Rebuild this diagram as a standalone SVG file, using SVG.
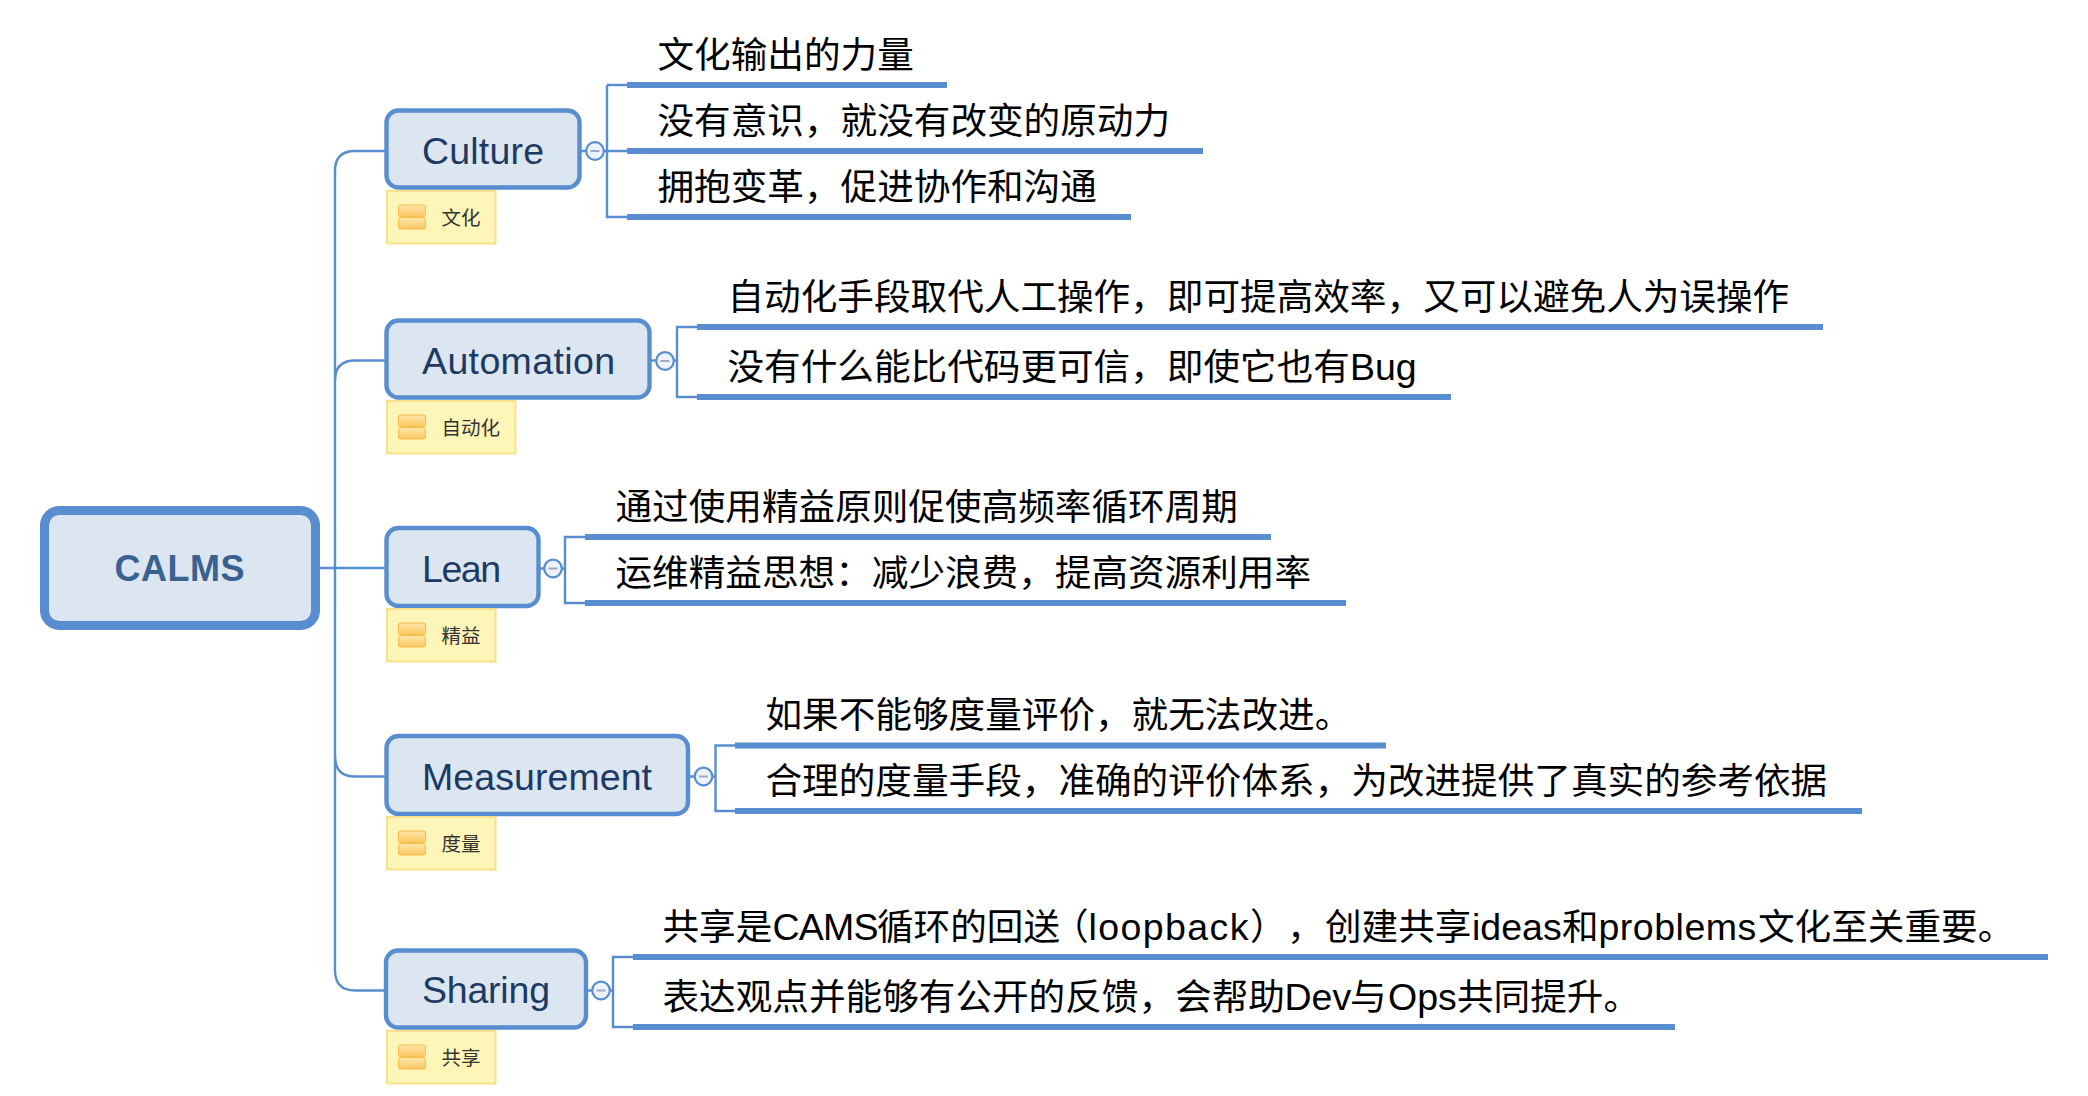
<svg xmlns="http://www.w3.org/2000/svg" width="2088" height="1096" viewBox="0 0 2088 1096">
<style>
text{font-family:"Liberation Sans","Noto Sans CJK SC",sans-serif;text-spacing-trim:space-all}
.box{fill:#dce6f1;stroke:#588dd0;stroke-width:4.4}
.root{fill:#dce6f1;stroke:#588dd0;stroke-width:9}
.lbl{font-size:37.5px;fill:#1c3a63}
.rootlbl{font-size:36px;font-weight:bold;fill:#3a6290;text-anchor:middle}
.note{fill:#fef5b8;stroke:#fae08a;stroke-width:2}
.ic{fill:url(#ig);stroke:#f6bd4f;stroke-width:1}
.ntx{font-size:19.5px;fill:#333}
.tx{font-size:36.62px;fill:#000}
.la{font-size:37.5px}
.halt{font-feature-settings:"halt"}
.ul{fill:#588dd0}
.con{fill:none;stroke:#588dd0;stroke-width:2.4}
.cc{fill:#eef3fb;stroke:#588dd0;stroke-width:2.2}
.mn{fill:#9aa8cc}
</style>
<defs>
<linearGradient id="ig" x1="0" y1="0" x2="0" y2="1"><stop offset="0" stop-color="#fde6a8"/><stop offset="1" stop-color="#fcc763"/></linearGradient>
<g id="noteicon"><rect class="ic" x="0" y="0" width="27" height="11.5" rx="2"/><rect class="ic" x="0" y="12.5" width="27" height="11.5" rx="2"/></g>
<g id="collapse"><circle class="cc" r="8.8"/><rect class="mn" x="-4.5" y="-1" width="9" height="2"/></g>
</defs>
<g id="connectors">
<path class="con" d="M320 568H385"/>
<path class="con" d="M385 151H355Q335 151 335 171V970Q335 990.5 355 990.5H385"/>
<path class="con" d="M385 360.5H355Q335 360.5 335 380.5"/>
<path class="con" d="M335 756Q335 776.5 355 776.5H385"/>
<path class="con" d="M581 151H586M604 151H607M607 85H627M607 85V217H627M607 151H627"/>
<path class="con" d="M651 360.5H656M674 360.5H677M697 327H677V397H697"/>
<path class="con" d="M540 568.5H544M561.500 568.5H565M585 537H565V603H585"/>
<path class="con" d="M690 776.500H694M712 776.5H715.500M735 745.500H715.500V811H735"/>
<path class="con" d="M588 990.500H592M610 990.500H613M633 957H613V1027H633"/>
</g>
<g id="root"><rect class="root" x="44.500" y="510.500" width="271" height="115" rx="15"/><text class="rootlbl" x="179.500" y="581" textLength="130">CALMS</text></g>
<g id="culture"><rect class="box" x="386.500" y="110.500" width="193" height="77" rx="12"/><text class="lbl" x="422" y="163.500" textLength="122">Culture</text>
<use href="#collapse" x="595" y="151"/>
<rect class="note" x="387" y="191" width="108.500" height="52.500"/><use href="#noteicon" x="398.500" y="205"/><text class="ntx" x="441.500" y="224.500">文化</text></g>
<g id="automation"><rect class="box" x="386.500" y="320.500" width="263" height="77" rx="12"/><text class="lbl" x="422" y="373.500" textLength="193">Automation</text>
<use href="#collapse" x="665" y="361"/>
<rect class="note" x="387" y="401" width="128.500" height="52.500"/><use href="#noteicon" x="398.500" y="415"/><text class="ntx" x="441.500" y="434.500">自动化</text></g>
<g id="lean"><rect class="box" x="386.500" y="528" width="152" height="78" rx="12"/><text class="lbl" x="422" y="581.500" textLength="79">Lean</text>
<use href="#collapse" x="553" y="568.500"/>
<rect class="note" x="387" y="609" width="108.500" height="52.500"/><use href="#noteicon" x="398.500" y="623"/><text class="ntx" x="441.500" y="642.500">精益</text></g>
<g id="measurement"><rect class="box" x="386.500" y="736" width="301.500" height="78" rx="12"/><text class="lbl" x="422" y="789.500" textLength="230">Measurement</text>
<use href="#collapse" x="703.500" y="776.500"/>
<rect class="note" x="387" y="817" width="108.500" height="52.500"/><use href="#noteicon" x="398.500" y="831"/><text class="ntx" x="441.500" y="850.500">度量</text></g>
<g id="sharing"><rect class="box" x="386" y="950.500" width="200" height="77" rx="12"/><text class="lbl" x="422" y="1003" textLength="128">Sharing</text>
<use href="#collapse" x="601" y="990.500"/>
<rect class="note" x="387" y="1031" width="108.500" height="52.500"/><use href="#noteicon" x="398.500" y="1045"/><text class="ntx" x="441.500" y="1064.500">共享</text></g>
<g id="c1"><text class="tx" x="657.500" y="67.500">文化输出的力量</text><rect class="ul" x="627" y="82" width="320" height="6"/></g>
<g id="c2"><text class="tx" x="657.500" y="133.500">没有意识，就没有改变的原动力</text><rect class="ul" x="627" y="148" width="576" height="6"/></g>
<g id="c3"><text class="tx" x="657.500" y="199.500">拥抱变革，促进协作和沟通</text><rect class="ul" x="627" y="214" width="504" height="6"/></g>
<g id="a1"><text class="tx" x="727.500" y="309.500">自动化手段取代人工操作，即可提高效率，又可以避免人为误操作</text><rect class="ul" x="697" y="324" width="1126" height="6"/></g>
<g id="a2"><text class="tx" x="727.500" y="379.500">没有什么能比代码更可信，即使它也有<tspan class="la">Bug</tspan></text><rect class="ul" x="697" y="394" width="754" height="6"/></g>
<g id="l1"><text class="tx" x="615.500" y="519.500">通过使用精益原则促使高频率循环周期</text><rect class="ul" x="585" y="534" width="686" height="6"/></g>
<g id="l2"><text class="tx" x="615.500" y="585.500">运维精益思想：减少浪费，提高资源利用率</text><rect class="ul" x="585" y="600" width="761" height="6"/></g>
<g id="m1"><text class="tx" x="765.500" y="727.500">如果不能够度量评价，就无法改进。</text><rect class="ul" x="735" y="742.500" width="651" height="6"/></g>
<g id="m2"><text class="tx" x="765.500" y="793.500">合理的度量手段，准确的评价体系，为改进提供了真实的参考依据</text><rect class="ul" x="735" y="808" width="1127" height="6"/></g>
<g id="s1"><text class="tx" x="662.500" y="939.500">共享是<tspan class="la" x="772.500" letter-spacing="-0.8">CAMS</tspan><tspan x="877">循环的回送</tspan><tspan class="halt" x="1070.200">（</tspan><tspan class="la" x="1088.500" letter-spacing="1.4">loopback</tspan><tspan x="1250">）</tspan><tspan x="1287">，</tspan><tspan x="1325">创建共享</tspan><tspan class="la" x="1472">ideas</tspan><tspan x="1562">和</tspan><tspan class="la" x="1598.500" letter-spacing="0.5">problems</tspan><tspan x="1758">文化至关重要。</tspan></text><rect class="ul" x="633" y="954" width="1415" height="6"/></g>
<g id="s2"><text class="tx" x="662.500" y="1009.500">表达观点并能够有公开的反馈，会帮助<tspan class="la" x="1284.500">Dev</tspan><tspan x="1350">与</tspan><tspan class="la" x="1388">Ops</tspan><tspan x="1457">共同提升。</tspan></text><rect class="ul" x="633" y="1024" width="1042" height="6"/></g>
</svg>
